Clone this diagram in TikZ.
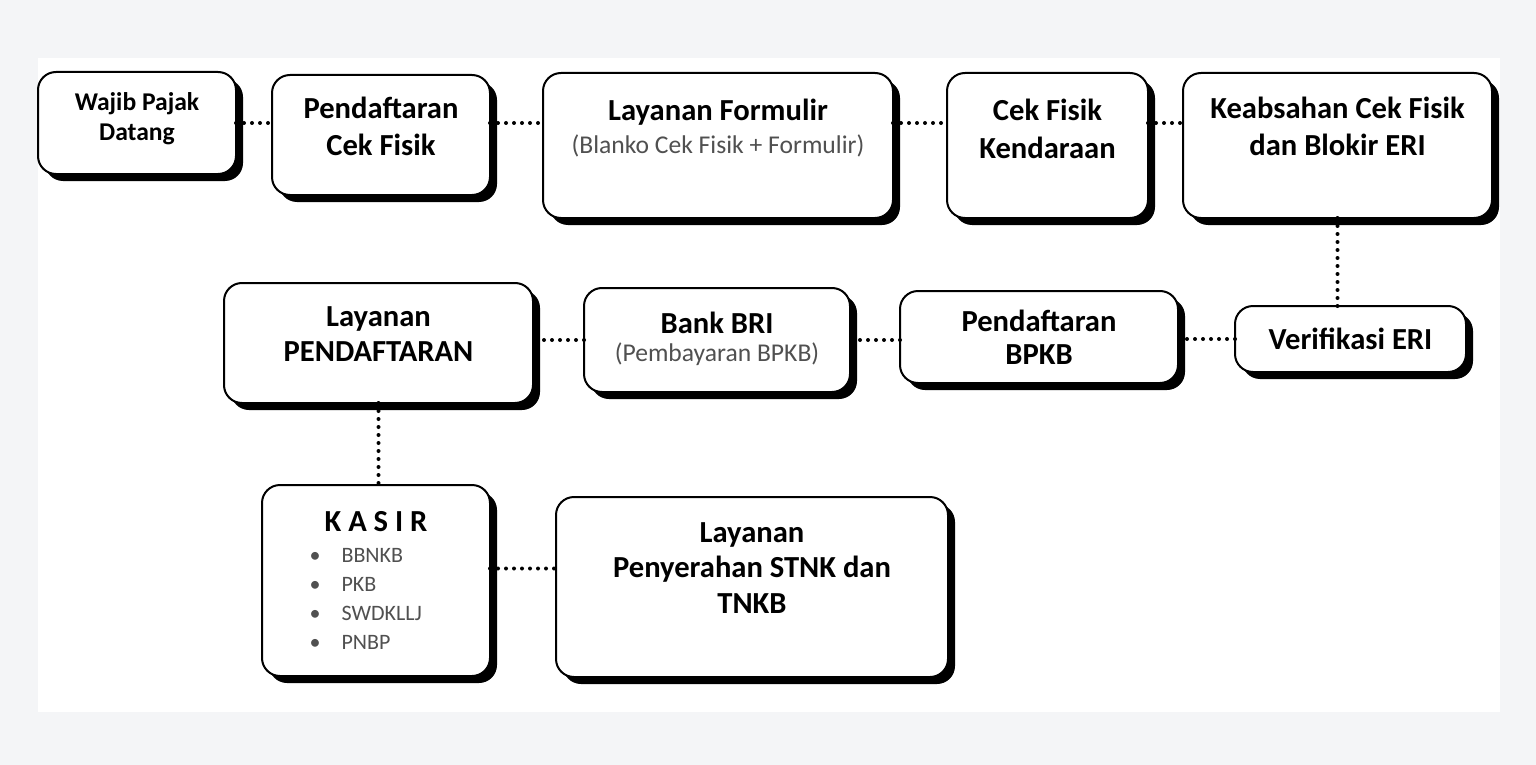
\documentclass[tikz,border=0pt]{standalone}
\usepackage{fontspec}
\setmainfont{Carlito}
\usetikzlibrary{positioning,shadows}
\definecolor{pagegray}{HTML}{F4F5F7}
\definecolor{subgray}{HTML}{505050}
\tikzset{
    step-box/.style = {draw=black, fill=white, line width=1pt, rectangle, rounded corners=9pt, inner sep=0pt, outer sep=0pt,
        drop shadow={shadow xshift=3.5pt, shadow yshift=-3.5pt, fill=black, opacity=1}},
    step-title/.style = {font=\fontsize{15.3}{18.5}\selectfont\bfseries, align=center, inner sep=0pt},
    step-sub/.style = {font=\fontsize{12.8}{15}\selectfont, text=subgray, inner sep=0pt},
    item-list/.style = {font=\fontsize{11}{14.5}\selectfont, text=subgray, align=left, inner sep=0pt},
    dot-link/.style = {line width=2pt, line cap=round, dash pattern=on 0pt off 4pt},
}

\begin{document}
\begin{tikzpicture}[x=0.5pt, y=-0.5pt]
\fill[pagegray] (0,0) rectangle (1536,765);
\fill[white] (38,58) rectangle (1500,712);
\useasboundingbox (0,0) rectangle (1536,765);

% top row
\node[step-box, minimum width=99pt, minimum height=51pt] (wajib) at (137,123) {};
\node[step-box, minimum width=109pt, minimum height=60pt] (daftarcek) at (381,135) {};
\node[step-box, minimum width=175pt, minimum height=72.5pt] (formulir) at (718,145.5) {};
\node[step-box, minimum width=100.5pt, minimum height=72.5pt] (cekfisik) at (1047.5,145.5) {};
\node[step-box, minimum width=154.5pt, minimum height=72.5pt] (keabsahan) at (1337.5,145.5) {};

\node[step-title, font=\fontsize{12.8}{15}\selectfont\bfseries, below=10pt of wajib.north] (wajibtext) {Wajib Pajak\\Datang};
\node[step-title, below=11pt of daftarcek.north] (daftarcektext) {Pendaftaran\\Cek Fisik};
\node[step-title, below=13pt of formulir.north] (formulirtext) {Layanan Formulir};
\node[step-sub, below=4pt of formulirtext] (formulirsub) {(Blanko Cek Fisik + Formulir)};
\node[step-title, font=\fontsize{15.3}{19}\selectfont\bfseries, below=13pt of cekfisik.north] (cekfisiktext) {Cek Fisik\\Kendaraan};
\node[step-title, below=12pt of keabsahan.north] (keabsahantext) {Keabsahan Cek Fisik\\dan Blokir ERI};

% middle row
\node[step-box, minimum width=115.5pt, minimum height=33pt] (verifikasi) at (1350.5,339) {};
\node[step-box, minimum width=139pt, minimum height=46pt] (daftarbpkb) at (1039,337) {};
\node[step-box, minimum width=133pt, minimum height=52pt] (bankbri) at (717,340) {};
\node[step-box, minimum width=154.5pt, minimum height=60pt] (laypend) at (378.5,343) {};

\node[step-title] (verifikasitext) at (verifikasi) {Verifikasi ERI};
\node[step-title, font=\fontsize{15.3}{16.5}\selectfont\bfseries] (daftarbpkbtext) at (daftarbpkb) {Pendaftaran\\BPKB};
\node[step-title, below=12pt of bankbri.north] (bankbritext) {Bank BRI};
\node[step-sub, below=4pt of bankbritext] (bankbrisub) {(Pembayaran BPKB)};
\node[step-title, font=\fontsize{15.3}{17.5}\selectfont\bfseries, below=11.5pt of laypend.north] (laypendtext) {Layanan\\PENDAFTARAN};

% bottom row
\node[step-box, minimum width=114pt, minimum height=95.5pt] (kasir) at (376,580.5) {};
\node[step-box, minimum width=196pt, minimum height=90pt] (serah) at (752,587) {};

\node[step-title, below=13pt of kasir.north] (kasirtext) {K A S I R};
\node[item-list, anchor=north west] (kasirlist) at ([xshift=-7.5pt, yshift=-8pt]kasirtext.south west)
    {\textbullet\hspace{10.5pt}BBNKB\\ \textbullet\hspace{10.5pt}PKB\\ \textbullet\hspace{10.5pt}SWDKLLJ\\ \textbullet\hspace{10.5pt}PNBP};
\node[step-title, font=\fontsize{15.3}{17.75}\selectfont\bfseries, below=12.5pt of serah.north] (serahtext) {Layanan\\Penyerahan STNK dan\\TNKB};

% dotted links
\draw[dot-link] (wajib.east) -- (wajib.east -| daftarcek.west);
\draw[dot-link] (daftarcek.east |- wajib.east) -- (wajib.east -| formulir.west);
\draw[dot-link] (formulir.east |- wajib.east) -- (wajib.east -| cekfisik.west);
\draw[dot-link] (cekfisik.east |- wajib.east) -- (wajib.east -| keabsahan.west);
\draw[dot-link] (keabsahan.south) -- (keabsahan.south |- verifikasi.north);
\draw[dot-link] (verifikasi.west) -- (verifikasi.west -| daftarbpkb.east);
\draw[dot-link] (daftarbpkb.west |- bankbri.east) -- (bankbri.east);
\draw[dot-link] (bankbri.west) -- (bankbri.west -| laypend.east);
\draw[dot-link] (laypend.south) -- (laypend.south |- kasir.north);
\draw[dot-link] ([yshift=6pt]kasir.east) -- ([yshift=6pt]kasir.east -| serah.west);
\end{tikzpicture}
\end{document}
